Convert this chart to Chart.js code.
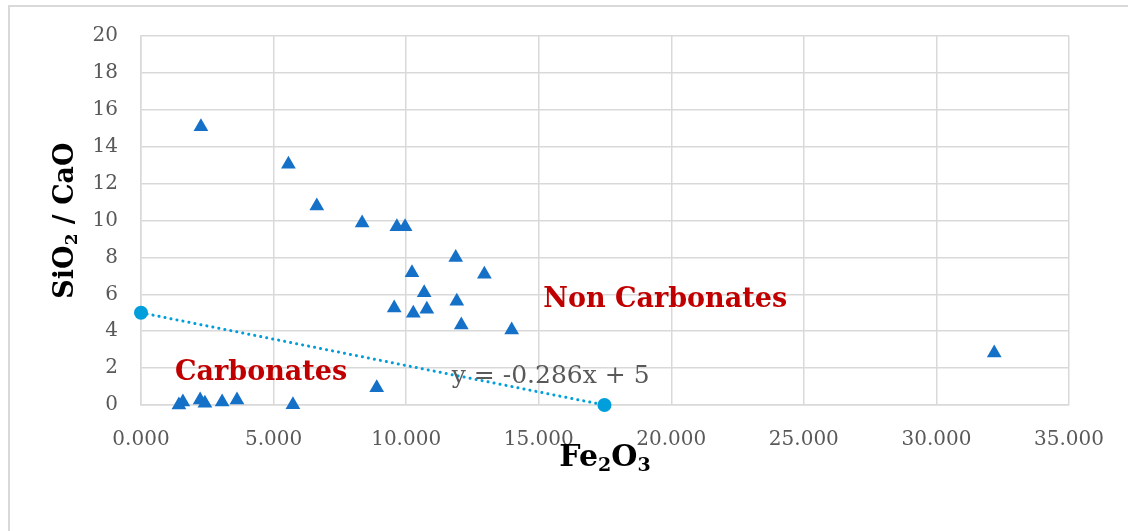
<!DOCTYPE html>
<html>
<head>
<meta charset="utf-8">
<script src="https://cdn.jsdelivr.net/npm/chart.js@4"></script>
<style>
  html, body { margin: 0; padding: 0; background: #fff; overflow: hidden; }
  #frame { position: absolute; left: 8px; top: 5px; width: 1200px; height: 600px; border: 2px solid #d9d9d9; }
  #wrap { position: absolute; left: 0; top: 0; width: 1128px; height: 531px; }
</style>
</head>
<body>
<div id="frame"></div>
<div id="wrap"><canvas id="chart" width="1128" height="531"></canvas></div>
<script>
// Non carbonate samples (Fe2O3, SiO2/CaO)
const nonCarbFe = [2.26, 5.56, 6.63, 8.34, 9.65, 9.96, 10.22, 11.87, 12.95, 10.68, 9.55, 10.27, 10.78, 11.91, 12.08, 13.98, 8.89, 32.18];
const nonCarbRatio = [15.08, 13.05, 10.79, 9.86, 9.66, 9.66, 7.17, 8.0, 7.08, 6.09, 5.26, 4.97, 5.19, 5.62, 4.34, 4.07, 0.94, 2.82];

// Carbonate samples
const carbFe = [1.58, 1.43, 2.23, 2.41, 3.06, 3.62, 5.73];
const carbRatio = [0.16, 0.0, 0.27, 0.1, 0.16, 0.27, 0.02];

// trend line y = -0.286x + 5, drawn between its two end points
const trendX = [0, 17.48];
const trendY = [5, 0];

const xTicks = [0, 5, 10, 15, 20, 25, 30, 35];
const yTicks = [0, 2, 4, 6, 8, 10, 12, 14, 16, 18, 20];

const toPts = (xs, ys) => xs.map((x, i) => ({ x: x, y: ys[i] }));

const serif = "'DejaVu Serif', serif";

// text labels placed in data units
const notes = [
    { text: "Carbonates", x: 4.53, y: 1.73, color: "#c00000", font: "bold 27px " + serif },
    { text: "Non Carbonates", x: 19.77, y: 5.69, color: "#c00000", font: "bold 27px " + serif },
    { text: "y = -0.286x + 5", x: 15.45, y: 1.52, color: "#595959", font: "25px " + serif }
];

function drawParts(ctx, parts, cx, cy) {
    let total = 0;
    parts.forEach(p => { ctx.font = p.font; total += ctx.measureText(p.t).width; });
    let x = cx - total / 2;
    parts.forEach(p => {
        ctx.font = p.font;
        ctx.fillText(p.t, x, cy + (p.dy || 0));
        x += ctx.measureText(p.t).width;
    });
}

const labelsPlugin = {
    id: "labels",
    afterDatasetsDraw(chart) {
        const ctx = chart.ctx;
        const xs = chart.scales.x, ys = chart.scales.y;
        ctx.save();
        ctx.textBaseline = "middle";
        ctx.textAlign = "left";
        notes.forEach(n => {
            ctx.font = n.font;
            ctx.fillStyle = n.color;
            const w = ctx.measureText(n.text).width;
            ctx.fillText(n.text, xs.getPixelForValue(n.x) - w / 2, ys.getPixelForValue(n.y));
        });

        // axis titles with subscripts
        ctx.fillStyle = "#000";
        const area = chart.chartArea;
        drawParts(ctx, [
            { t: "Fe", font: "bold 30px " + serif }, { t: "2", font: "bold 19px " + serif, dy: 8 },
            { t: "O", font: "bold 30px " + serif }, { t: "3", font: "bold 19px " + serif, dy: 8 }
        ], (area.left + area.right) / 2, 458);

        ctx.translate(66, (area.top + area.bottom) / 2);
        ctx.rotate(-Math.PI / 2);
        drawParts(ctx, [
            { t: "SiO", font: "bold 27px " + serif }, { t: "2", font: "bold 17px " + serif, dy: 7 },
            { t: " / CaO", font: "bold 27px " + serif }
        ], 0, 0);
        ctx.restore();
    }
};

new Chart(document.getElementById("chart"), {
    type: "scatter",
    data: {
        datasets: [
            {
                label: "trend",
                data: toPts(trendX, trendY),
                showLine: true,
                borderColor: "#009fdb",
                borderWidth: 3,
                borderDash: [0.1, 6],
                borderCapStyle: "round",
                pointStyle: "circle",
                pointRadius: 7,
                pointBackgroundColor: "#009fdb",
                pointBorderWidth: 0,
                clip: false
            },
            {
                label: "Non Carbonates",
                data: toPts(nonCarbFe, nonCarbRatio),
                pointStyle: "triangle",
                pointRadius: 8.5,
                pointBackgroundColor: "#1570c8",
                pointBorderWidth: 0,
                clip: false
            },
            {
                label: "Carbonates",
                data: toPts(carbFe, carbRatio),
                pointStyle: "triangle",
                pointRadius: 8.5,
                pointBackgroundColor: "#1570c8",
                pointBorderWidth: 0,
                clip: false
            }
        ]
    },
    options: {
        responsive: false,
        animation: false,
        layout: { padding: { left: 0, right: 59, top: 36, bottom: 0 } },
        plugins: {
            legend: { display: false },
            tooltip: { enabled: false }
        },
        scales: {
            x: {
                type: "linear",
                min: 0,
                max: 35,
                afterBuildTicks: s => { s.ticks = xTicks.map(v => ({ value: v })); },
                afterFit: s => { s.height = 126; },
                ticks: {
                    padding: 23,
                    color: "#595959",
                    font: { family: "DejaVu Serif", size: 20 },
                    callback: v => Number(v).toFixed(3)
                },
                grid: { color: "#d9d9d9", lineWidth: 1.5, drawTicks: false },
                border: { color: "#d9d9d9", width: 1.5 }
            },
            y: {
                min: 0,
                max: 20,
                afterBuildTicks: s => { s.ticks = yTicks.map(v => ({ value: v })); },
                afterFit: s => { s.width = 141; },
                ticks: {
                    padding: 23,
                    color: "#595959",
                    font: { family: "DejaVu Serif", size: 20 }
                },
                grid: { color: "#d9d9d9", lineWidth: 1.5, drawTicks: false },
                border: { color: "#d9d9d9", width: 1.5 }
            }
        }
    },
    plugins: [labelsPlugin]
});
</script>
</body>
</html>
